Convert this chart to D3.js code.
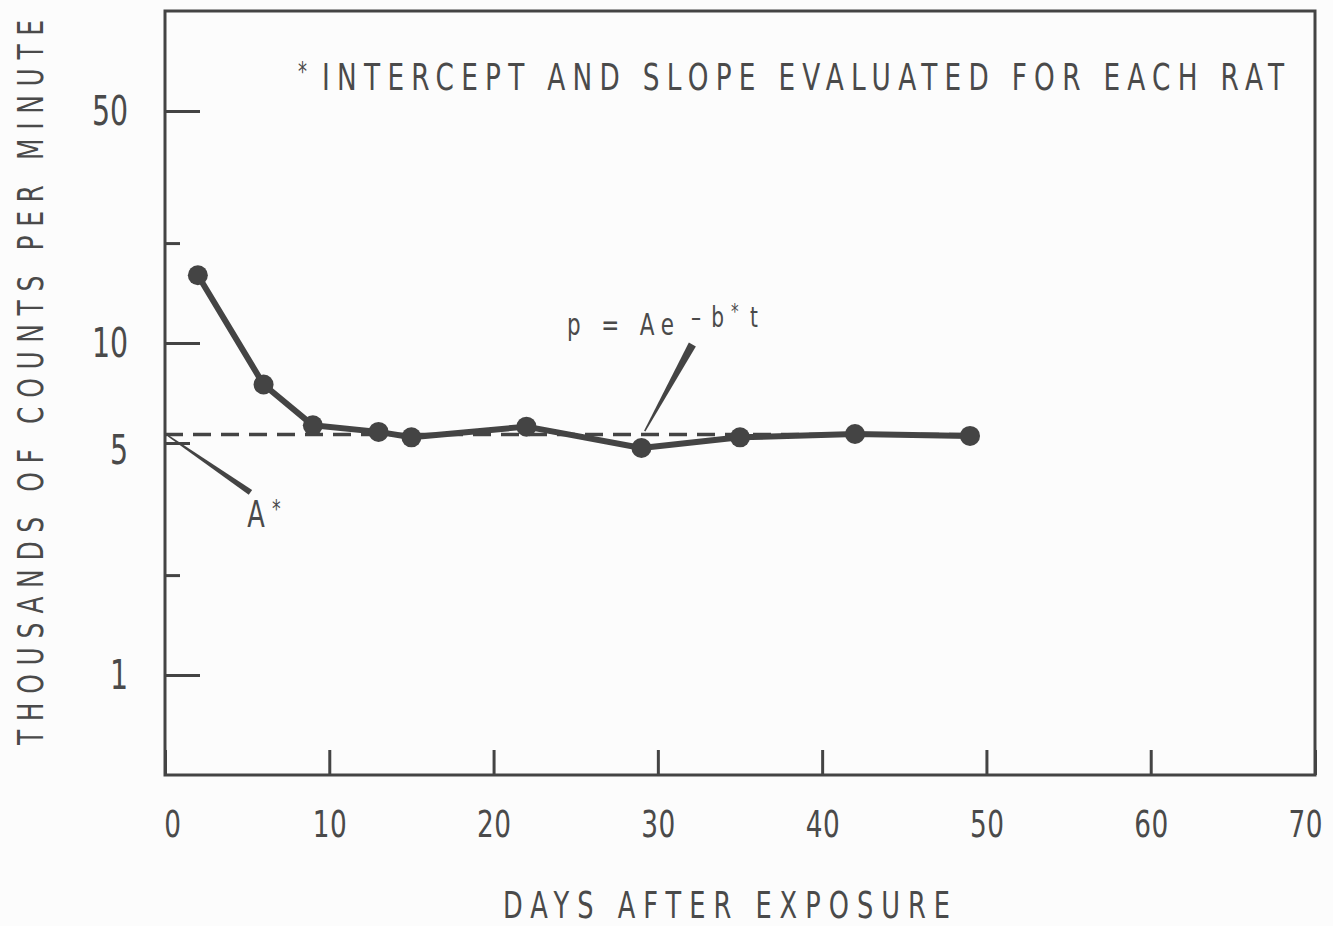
<!DOCTYPE html>
<html lang="en">
<head>
    <meta charset="UTF-8">
    <title>Thousands of counts per minute vs days after exposure</title>
    <style>
        body {
            margin: 0;
            padding: 0;
            background-color: #fcfcfc;
        }

        svg text {
            font-family: "DejaVu Sans Condensed", "DejaVu Sans", sans-serif;
            fill: #4a4a4a;
        }

        .axis line {
            stroke: #444;
            stroke-width: 3;
        }
    </style>
</head>
<body>
<svg width="1333" height="926" id="chart"></svg>

<script src="https://d3js.org/d3.v7.min.js"></script>
<script>
    // Data
    const days = [2, 6, 9, 13, 15, 22, 29, 35, 42, 49];
    const counts = [16.0, 7.5, 5.65, 5.4, 5.2, 5.6, 4.83, 5.2, 5.32, 5.25];

    // Fitted intercept line (dashed)
    const fitDays = [0, 49];
    const fitValue = 5.3;

    const xTicks = [0, 10, 20, 30, 40, 50, 60, 70];
    const yTicks = [1, 2, 5, 10, 20, 50];
    const yTickLabels = ["1", "", "5", "10", "", "50"];
    const yTickLengths = [35, 15, 25, 35, 15, 35];

    const ink = "#444";
    const sx = 0.77;   // squeeze glyphs horizontally, the original lettering is narrow

    const svg = d3.select("#chart");
    const margin = { top: 11, right: 18, bottom: 151, left: 165 };
    const W = 1333, H = 926;

    const x = d3.scaleLinear()
        .domain([0, 70])
        .range([margin.left, W - margin.right]);

    const y = d3.scaleLog()
        .domain([0.5, 100])
        .range([H - margin.bottom, margin.top]);

    svg.append("rect")
        .attr("width", W).attr("height", H)
        .attr("fill", "#fcfcfc");

    // x axis, ticks pointing inward
    svg.append("g")
        .attr("class", "axis")
        .attr("transform", `translate(0,${H - margin.bottom})`)
        .call(d3.axisBottom(x).tickValues(xTicks).tickSizeInner(-25).tickSizeOuter(0).tickPadding(35))
        .call(g => g.select(".domain").remove())
        .call(g => g.selectAll(".tick text")
            .style("font-size", "38px")
            .attr("transform", `scale(${sx},1)`)
            .attr("x", d => (d === 0 ? 7 : d === 70 ? -10 : 0) / sx)
            .attr("textLength", d => (d === 0 ? 19 : 34) / sx)
            .attr("lengthAdjust", "spacing"));

    // y axis, log scale, ticks pointing inward
    svg.append("g")
        .attr("class", "axis")
        .attr("transform", `translate(${margin.left},0)`)
        .call(d3.axisLeft(y).tickValues(yTicks).tickSizeInner(-35).tickSizeOuter(0).tickPadding(37)
            .tickFormat((d, i) => yTickLabels[i]))
        .call(g => g.select(".domain").remove())
        .call(g => g.selectAll(".tick line").attr("x2", (d, i) => yTickLengths[i]))
        .call(g => g.selectAll(".tick text")
            .style("font-size", "41px")
            .attr("transform", `scale(${sx},1)`)
            .attr("x", -37 / sx)
            .attr("y", d => d === 5 ? 7 : 0));

    // frame
    svg.append("rect")
        .attr("x", x(0)).attr("y", y(100))
        .attr("width", x(70) - x(0)).attr("height", y(0.5) - y(100))
        .attr("fill", "none")
        .attr("stroke", ink)
        .attr("stroke-width", 3);

    // dashed fit line
    svg.append("line")
        .attr("x1", x(fitDays[0])).attr("x2", x(fitDays[1]))
        .attr("y1", y(fitValue)).attr("y2", y(fitValue))
        .attr("stroke", ink)
        .attr("stroke-width", 3.5)
        .attr("stroke-dasharray", "18,10");

    // data line + points
    const pts = days.map((d, i) => ({ day: d, value: counts[i] }));

    svg.append("path")
        .datum(pts)
        .attr("fill", "none")
        .attr("stroke", ink)
        .attr("stroke-width", 6)
        .attr("stroke-linejoin", "round")
        .attr("d", d3.line().x(d => x(d.day)).y(d => y(d.value)));

    svg.selectAll("circle.pt")
        .data(pts)
        .enter().append("circle")
        .attr("class", "pt")
        .attr("cx", d => x(d.day))
        .attr("cy", d => y(d.value))
        .attr("r", 10)
        .attr("fill", ink);

    // tapered pointer wedge: thin end at (d0,v0), thick end at (d1,v1)
    function wedge(d0, v0, d1, v1, w0, w1) {
        const x0 = x(d0), y0 = y(v0), x1 = x(d1), y1 = y(v1);
        const len = Math.hypot(x1 - x0, y1 - y0);
        const nx = -(y1 - y0) / len, ny = (x1 - x0) / len;
        const p = [
            [x0 + nx * w0 / 2, y0 + ny * w0 / 2],
            [x1 + nx * w1 / 2, y1 + ny * w1 / 2],
            [x1 - nx * w1 / 2, y1 - ny * w1 / 2],
            [x0 - nx * w0 / 2, y0 - ny * w0 / 2]
        ];
        svg.append("polygon")
            .attr("points", p.map(q => q.join(",")).join(" "))
            .attr("fill", ink);
    }

    // narrow, letter-spaced label; len is the width it should take on screen
    function label(str, px, py, size, len, rot) {
        const t = svg.append("text")
            .attr("transform", `translate(${px},${py})${rot ? " rotate(" + rot + ")" : ""} scale(${sx},1)`)
            .style("font-size", size + "px")
            .text(str);
        if (len) t.attr("textLength", len / sx).attr("lengthAdjust", "spacing");
        return t;
    }

    // A* pointer
    wedge(0.2, 5.25, 5.2, 3.55, 1.5, 6);
    label("A", x(5.0), y(2.8), 37, 17);
    label("*", 272, 517, 25);

    // p = Ae^-b*t pointer
    wedge(29.2, 5.43, 32.1, 9.9, 1.5, 8);
    label("p = Ae", 567, 335, 31, 107);
    label("\u2013b", 691, 327, 29, 33);
    label("*", 731, 319, 22);
    label("t", 750, 327, 29);

    // note at top
    label("*", 298, 81, 26);
    label("INTERCEPT AND SLOPE EVALUATED FOR EACH RAT", 322, 90, 38, 962);

    // axis titles
    label("DAYS AFTER EXPOSURE", 503, 918, 37, 447);
    label("THOUSANDS OF COUNTS PER MINUTE", 43, 745, 36, 725, -90);
</script>
</body>
</html>
